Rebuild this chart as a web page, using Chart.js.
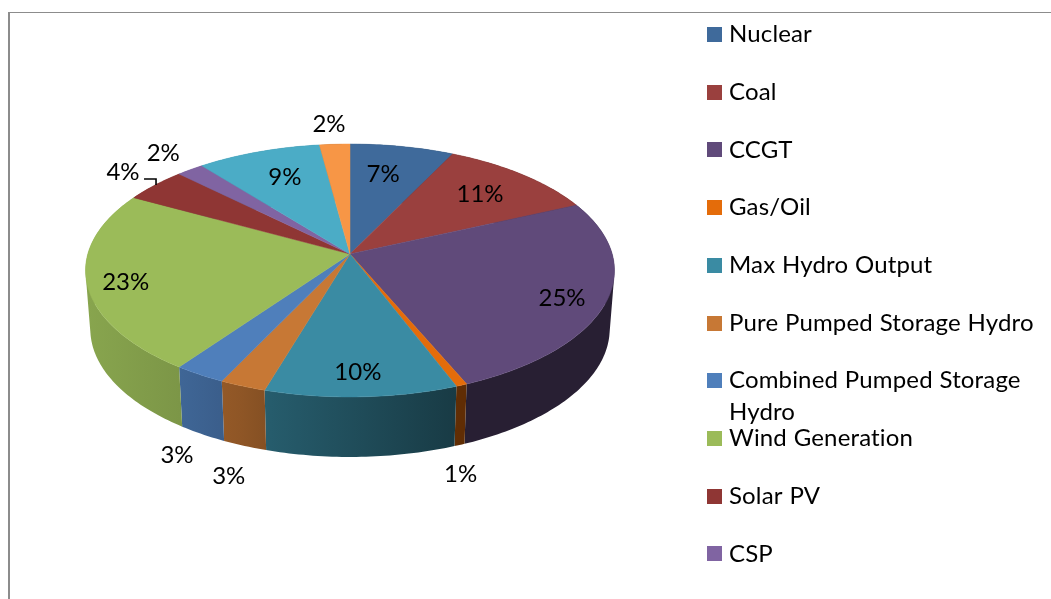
<!DOCTYPE html>
<html>
<head>
<meta charset="utf-8">
<style>html,body{margin:0;padding:0;background:#fff;overflow:hidden}canvas{display:block;filter:blur(0.3px)}</style>
<script src="https://cdn.jsdelivr.net/npm/chart.js@4/dist/chart.umd.min.js"></script>
</head>
<body>
<canvas id="c" width="1051" height="599"></canvas>
<script>
// Data (the last two slices have no readable legend entry: the legend is cut off)
const categories = ["Nuclear","Coal","CCGT","Gas/Oil","Max Hydro Output","Pure Pumped Storage Hydro",
  ["Combined Pumped Storage","Hydro"],"Wind Generation","Solar PV","CSP","",""];
const shares = [7.2,11.0,25.4,0.6,10.4,2.5,2.8,23.1,4.4,1.9,8.6,2.1];
const sliceColors = ["#3F6A9B","#9A403E","#604A7A","#E46C0A","#3A8BA3","#C77835","#4F7FBB","#9BBB59","#8F3634","#8064A2","#4BACC6","#F79646"];

// Drawing styles
const FONT = '24px Lato, sans-serif';
const pie = {x:350, y:254, a:262.2, b:124.3, k:0.1304, depth:58.5, depthGrow:1.5, inset:0.982};
const shadeX = [86,180,240,270,460,615];
const shadeF = [0.88,0.8,0.72,0.66,0.42,0.42];
const labelNudge = [[-19,27.5],[-42,19.5],[-44.5,-3],[-1,89],[-3.5,-25],[-14,90],[-22.7,81],[39,0],[-32,-13],[-27,-16],[26.5,25.5],[-5.7,-20]];
const legendStyle = {boxX:707, textX:729, firstY:27, step:57.7, box:15, lineGap:32};

function rim(theta){
  const u=Math.sin(theta), v=-Math.cos(theta), d=1-pie.k*v;
  return {x:pie.x+pie.a*u/d, y:pie.y+pie.b*v/d};
}
function lower(p){
  const v=(p.y-(pie.y+16.5))/126.5;
  return {x:pie.x+(p.x-pie.x)*pie.inset, y:p.y+pie.depth+pie.depthGrow*v};
}
function shade(hex,f){
  const n=parseInt(hex.slice(1),16);
  return `rgb(${Math.round((n>>16&255)*f)},${Math.round((n>>8&255)*f)},${Math.round((n&255)*f)})`;
}
function sample(s,e){
  const t0=s+Math.PI/2, t1=e+Math.PI/2, n=Math.max(4,Math.ceil((t1-t0)*60)), pts=[];
  for(let i=0;i<=n;i++) pts.push(rim(t0+(t1-t0)*i/n));
  return pts;
}
function addQuad(ctx,q){
  // same winding for every quad, so a single path fills without holes or seams
  let area=0;
  q.forEach((p,i)=>{const n=q[(i+1)%4]; area+=p.x*n.y-n.x*p.y;});
  if(area<0) q=q.slice().reverse();
  q.forEach((p,i)=>i?ctx.lineTo(p.x,p.y):ctx.moveTo(p.x,p.y));
  ctx.closePath();
}

const solidPie = {
  id:'solidPie',
  beforeDatasetsDraw(chart){
    const ctx=chart.ctx, arcs=chart.getDatasetMeta(0).data;
    // chart frame
    ctx.fillStyle='#8c8c8c';
    ctx.fillRect(8,12,2,587);
    ctx.fillRect(8,12,1043,1);
    // walls
    arcs.forEach((arc,i)=>{
      const pts=sample(arc.startAngle,arc.endAngle), low=pts.map(lower);
      const g=ctx.createLinearGradient(shadeX[0],0,shadeX[shadeX.length-1],0);
      shadeX.forEach((x,j)=>g.addColorStop((x-shadeX[0])/(shadeX[shadeX.length-1]-shadeX[0]),shade(sliceColors[i],shadeF[j])));
      ctx.fillStyle=g;
      ctx.beginPath();
      for(let j=0;j<pts.length-1;j++) addQuad(ctx,[pts[j],pts[j+1],low[j+1],low[j]]);
      ctx.fill();
    });
    // top faces
    arcs.forEach((arc,i)=>{
      const pts=sample(arc.startAngle,arc.endAngle);
      ctx.beginPath();
      ctx.moveTo(pie.x,pie.y);
      pts.forEach(p=>ctx.lineTo(p.x,p.y));
      ctx.closePath();
      ctx.fillStyle=sliceColors[i]; ctx.strokeStyle=sliceColors[i]; ctx.lineWidth=0.5;
      ctx.fill(); ctx.stroke();
    });
    // labels
    ctx.font=FONT; ctx.fillStyle='#000'; ctx.textAlign='center'; ctx.textBaseline='middle';
    arcs.forEach((arc,i)=>{
      const p=rim((arc.startAngle+arc.endAngle)/2+Math.PI/2);
      ctx.fillText(Math.round(shares[i]+1e-6)+'%',p.x+labelNudge[i][0],p.y+labelNudge[i][1]);
      if(i===8){
        ctx.beginPath(); ctx.moveTo(p.x+1,p.y); ctx.lineTo(p.x+1,p.y-6); ctx.lineTo(p.x-11,p.y-6);
        ctx.strokeStyle='#000'; ctx.lineWidth=1.6; ctx.stroke();
      }
    });
    // legend
    const L=legendStyle;
    ctx.textAlign='left';
    ctx.letterSpacing='0.15px'; ctx.wordSpacing='0.5px';
    categories.forEach((name,i)=>{
      if(!name) return;
      const top=L.firstY+L.step*i;
      ctx.fillStyle=sliceColors[i];
      ctx.fillRect(L.boxX,Math.round(top),L.box,L.box);
      ctx.fillStyle='#000';
      [].concat(name).forEach((line,j)=>ctx.fillText(line,L.textX,top+L.box/2+j*L.lineGap));
    });
    ctx.letterSpacing='0px'; ctx.wordSpacing='0px';
    return false;
  }
};

new Chart(document.getElementById('c'),{
  type:'pie',
  data:{labels:categories.map(c=>[].concat(c).join(' ')),datasets:[{data:shares,backgroundColor:sliceColors,borderWidth:0}]},
  options:{responsive:false,animation:false,plugins:{legend:{display:false},tooltip:{enabled:false}}},
  plugins:[solidPie]
});
</script>
</body>
</html>
